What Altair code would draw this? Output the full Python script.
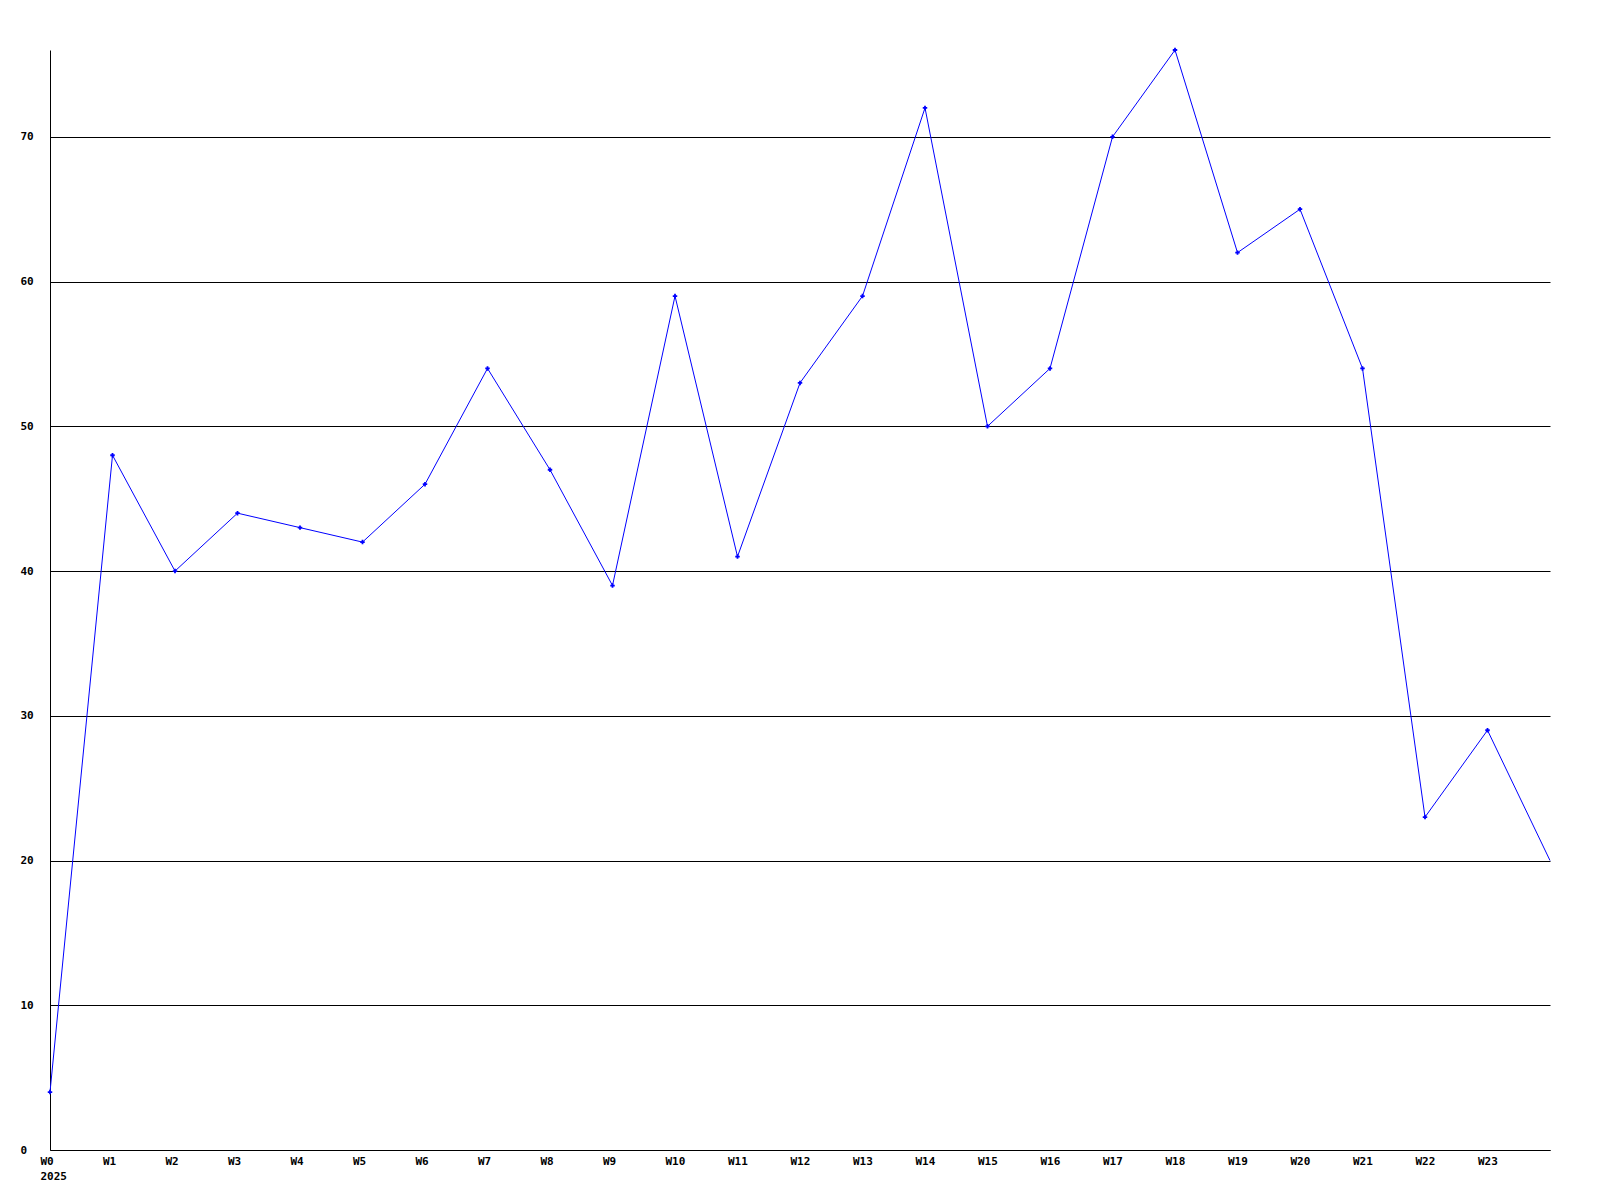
import altair as alt
import pandas as pd

weeks = list(range(25))
values = [4, 48, 40, 44, 43, 42, 46, 54, 47, 39, 59, 41, 53, 59, 72, 50, 54, 70, 76, 62, 65, 54, 23, 29, 20]
x_ticks = list(range(24))
y_ticks = [0, 10, 20, 30, 40, 50, 60, 70]

df = pd.DataFrame({"week": weeks, "value": values})
df_pts = df.iloc[:-1]

FONT = "DejaVu Sans Mono"

x_enc = alt.X("week:Q", scale=alt.Scale(domain=[0, 24], nice=False, zero=False),
              axis=alt.Axis(values=x_ticks, grid=False, ticks=False, domain=True,
                            domainColor="black", domainWidth=1,
                            labelExpr="datum.value == 0 ? ['W0', '2025'] : 'W' + datum.value",
                            labelAlign="left", labelOffset=-10, labelBaseline="top",
                            labelPadding=5, labelLineHeight=15,
                            labelFont=FONT, labelFontSize=11, labelFontWeight="bold",
                            labelColor="black", title=None, labelFlush=False,
                            labelOverlap=False))
y_enc = alt.Y("value:Q", scale=alt.Scale(domain=[0, 76], nice=False),
              axis=alt.Axis(values=y_ticks, grid=True, gridColor="black", gridWidth=1,
                            gridOpacity=1, ticks=False, domain=True, domainColor="black",
                            domainWidth=1, labelAlign="left", labelPadding=30,
                            labelBaseline="middle",
                            labelFont=FONT, labelFontSize=11, labelFontWeight="bold",
                            labelColor="black", title=None))

line = alt.Chart(df).mark_line(color="#0000ff", strokeWidth=1).encode(x=x_enc, y=y_enc)
pts = alt.Chart(df_pts).mark_point(shape="cross", filled=True, size=20, color="#0000ff", opacity=1).encode(
    x="week:Q", y="value:Q")

chart = (line + pts).properties(
    width=1500, height=1100,
    autosize=alt.AutoSizeParams(type="none"),
    padding={"left": 42, "top": 42, "right": 42, "bottom": 42},
    background="white",
).configure_view(stroke=None)

chart.save("out.html", embed_options={"renderer": "svg", "actions": False})
